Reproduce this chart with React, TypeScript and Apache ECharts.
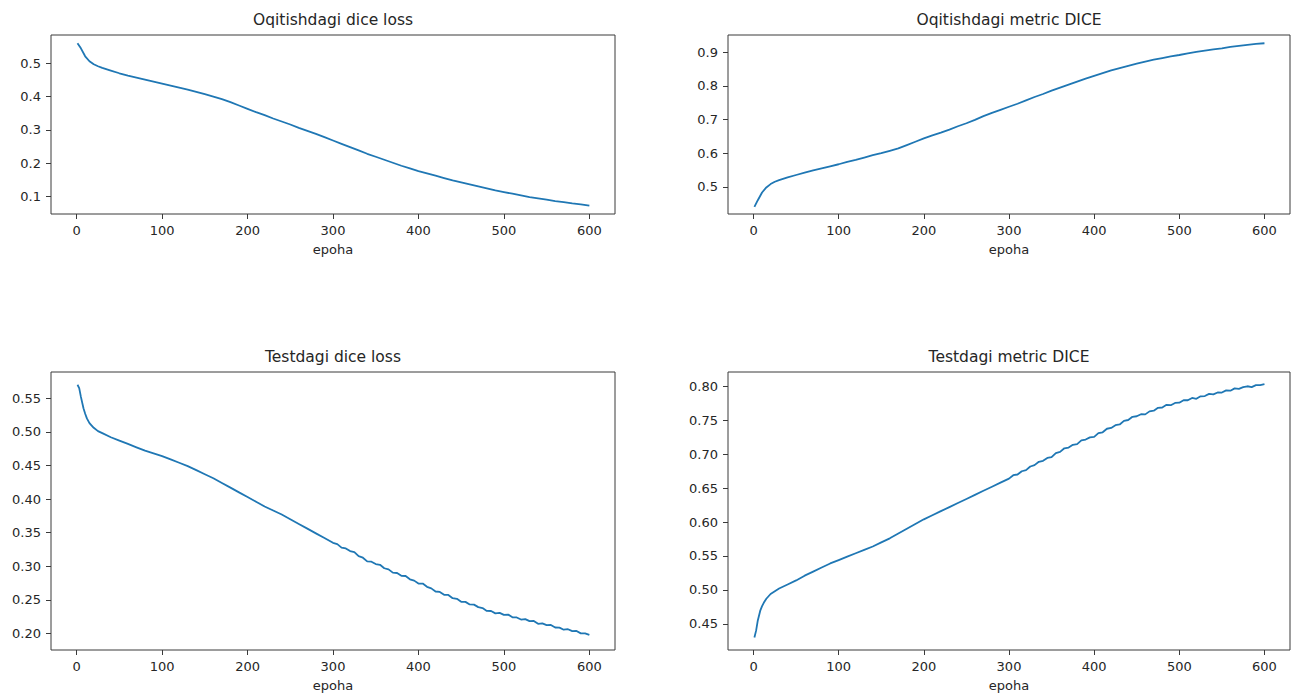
import React, { useEffect, useRef } from "react";
import * as echarts from "echarts";

// ---- data ----
const xTicks = [0, 100, 200, 300, 400, 500, 600];

const trainEpochs = [1, 5, 10, 15, 20, 25, 30, 40, 50, 60, 70, 80, 90, 100, 110, 120, 130, 140, 150, 160, 170, 180, 190, 200, 210, 220, 230, 240, 250, 260, 270, 280, 290, 300, 310, 320, 330, 340, 350, 360, 370, 380, 390, 400, 410, 420, 430, 440, 450, 460, 470, 480, 490, 500, 510, 520, 530, 540, 550, 560, 570, 580, 590, 600];
const trainLoss = [0.560, 0.545, 0.521, 0.506, 0.497, 0.491, 0.486, 0.478, 0.470, 0.463, 0.457, 0.451, 0.445, 0.439, 0.433, 0.427, 0.421, 0.414, 0.407, 0.400, 0.392, 0.383, 0.373, 0.363, 0.353, 0.344, 0.334, 0.325, 0.316, 0.306, 0.297, 0.288, 0.278, 0.268, 0.258, 0.248, 0.238, 0.228, 0.219, 0.210, 0.201, 0.192, 0.184, 0.176, 0.169, 0.162, 0.155, 0.148, 0.142, 0.136, 0.130, 0.124, 0.118, 0.113, 0.108, 0.103, 0.098, 0.094, 0.090, 0.086, 0.083, 0.079, 0.076, 0.072];
const trainDice = [0.440, 0.460, 0.483, 0.498, 0.508, 0.515, 0.520, 0.528, 0.535, 0.542, 0.549, 0.555, 0.561, 0.567, 0.574, 0.580, 0.587, 0.594, 0.600, 0.607, 0.614, 0.624, 0.634, 0.644, 0.653, 0.661, 0.670, 0.680, 0.689, 0.699, 0.710, 0.720, 0.729, 0.738, 0.747, 0.757, 0.767, 0.776, 0.786, 0.795, 0.804, 0.813, 0.822, 0.830, 0.838, 0.846, 0.853, 0.860, 0.866, 0.872, 0.878, 0.883, 0.888, 0.892, 0.897, 0.901, 0.905, 0.909, 0.912, 0.916, 0.919, 0.922, 0.925, 0.927];

const testEpochs = [1, 3, 5, 8, 10, 12, 15, 20, 25, 30, 40, 50, 60, 70, 80, 90, 100, 110, 120, 130, 140, 150, 160, 170, 180, 190, 200, 210, 220, 230, 240, 250, 260, 270, 280, 290, 300, 305, 310, 315, 320, 325, 330, 335, 340, 345, 350, 355, 360, 365, 370, 375, 380, 385, 390, 395, 400, 405, 410, 415, 420, 425, 430, 435, 440, 445, 450, 455, 460, 465, 470, 475, 480, 485, 490, 495, 500, 505, 510, 515, 520, 525, 530, 535, 540, 545, 550, 555, 560, 565, 570, 575, 580, 585, 590, 595, 600];
const testLoss = [0.570, 0.565, 0.552, 0.535, 0.527, 0.520, 0.513, 0.506, 0.501, 0.498, 0.492, 0.487, 0.482, 0.477, 0.472, 0.468, 0.464, 0.459, 0.454, 0.449, 0.443, 0.437, 0.431, 0.424, 0.417, 0.410, 0.403, 0.396, 0.389, 0.383, 0.377, 0.370, 0.363, 0.356, 0.349, 0.342, 0.3350, 0.3330, 0.3278, 0.3266, 0.3226, 0.3210, 0.3150, 0.3128, 0.3074, 0.3068, 0.3033, 0.3022, 0.2971, 0.2954, 0.2906, 0.2900, 0.2859, 0.2856, 0.2807, 0.2787, 0.2743, 0.2743, 0.2695, 0.2672, 0.2625, 0.2619, 0.2577, 0.2574, 0.2526, 0.2516, 0.2472, 0.2471, 0.2433, 0.2430, 0.2393, 0.2378, 0.2336, 0.2335, 0.2300, 0.2307, 0.2277, 0.2281, 0.2241, 0.2239, 0.2208, 0.2215, 0.2184, 0.2188, 0.2145, 0.2152, 0.2126, 0.2127, 0.2090, 0.2088, 0.2057, 0.2064, 0.2035, 0.2039, 0.2002, 0.2001, 0.1980];
const testDice = [0.430, 0.440, 0.455, 0.470, 0.476, 0.481, 0.487, 0.494, 0.498, 0.502, 0.508, 0.514, 0.521, 0.527, 0.533, 0.539, 0.544, 0.549, 0.554, 0.559, 0.564, 0.570, 0.576, 0.583, 0.590, 0.597, 0.604, 0.610, 0.616, 0.622, 0.628, 0.634, 0.640, 0.646, 0.652, 0.658, 0.6640, 0.6690, 0.6700, 0.6748, 0.6764, 0.6818, 0.6838, 0.6887, 0.6901, 0.6944, 0.6956, 0.7015, 0.7034, 0.7086, 0.7097, 0.7137, 0.7148, 0.7203, 0.7215, 0.7247, 0.7255, 0.7309, 0.7322, 0.7374, 0.7386, 0.7426, 0.7437, 0.7491, 0.7503, 0.7550, 0.7558, 0.7588, 0.7586, 0.7630, 0.7640, 0.7682, 0.7687, 0.7726, 0.7721, 0.7754, 0.7758, 0.7795, 0.7794, 0.7828, 0.7815, 0.7852, 0.7856, 0.7887, 0.7880, 0.7908, 0.7907, 0.7939, 0.7935, 0.7969, 0.7962, 0.7986, 0.8000, 0.7988, 0.8016, 0.8016, 0.8030];

const yTicksTrainLoss = [0.1, 0.2, 0.3, 0.4, 0.5];
const yTicksTrainDice = [0.5, 0.6, 0.7, 0.8, 0.9];
const yTicksTestLoss = [0.2, 0.25, 0.3, 0.35, 0.4, 0.45, 0.5, 0.55];
const yTicksTestDice = [0.45, 0.5, 0.55, 0.6, 0.65, 0.7, 0.75, 0.8];

const titles = ["Oqitishdagi dice loss", "Oqitishdagi metric DICE", "Testdagi dice loss", "Testdagi metric DICE"];
const xLabel = "epoha";

// ---- styling / layout ----
const FONT = "DejaVu Sans";
const TEXT = "#262626";
const SPINE = "#3a3a3a";
const LINE = "#1f77b4";

const grids = [
  { left: 51, top: 35, width: 564, height: 179 },
  { left: 728, top: 35, width: 562, height: 179 },
  { left: 51, top: 372, width: 564, height: 279 },
  { left: 728, top: 372, width: 562, height: 279 },
];
const yRanges = [
  [0.047, 0.585],
  [0.419, 0.9515],
  [0.1755, 0.589],
  [0.4115, 0.821],
];
const yTicks = [yTicksTrainLoss, yTicksTrainDice, yTicksTestLoss, yTicksTestDice];
const yDecimals = [1, 1, 2, 2];

const pair = (xs: number[], ys: number[]) => xs.map((x, i) => [x, ys[i]]);
const seriesData = [
  pair(trainEpochs, trainLoss),
  pair(trainEpochs, trainDice),
  pair(testEpochs, testLoss),
  pair(testEpochs, testDice),
];

export default function App() {
  const ref = useRef<HTMLDivElement>(null);
  useEffect(() => {
    if (!ref.current) return;
    const chart = echarts.init(ref.current, undefined, { renderer: "svg" });
    const option: any = {
      animation: false,
      backgroundColor: "#ffffff",
      grid: grids.map((g) => ({
        ...g,
        show: true,
        borderColor: SPINE,
        borderWidth: 1,
        backgroundColor: "transparent",
        containLabel: false,
      })),
      xAxis: grids.map((_, i) => ({
        type: "value",
        gridIndex: i,
        min: -30,
        max: 630,
        position: "bottom",
        name: xLabel,
        nameLocation: "middle",
        nameGap: 29,
        nameTextStyle: { fontFamily: FONT, fontSize: 13, color: TEXT },
        splitLine: { show: false },
        axisLine: { show: false, onZero: false },
        axisTick: { show: true, length: 5, customValues: xTicks, lineStyle: { color: SPINE, width: 1 } },
        axisLabel: {
          customValues: xTicks,
          margin: 10,
          fontFamily: FONT,
          fontSize: 13,
          color: TEXT,
          formatter: (v: number) => String(Math.round(v)),
        },
      })),
      yAxis: grids.map((_, i) => ({
        type: "value",
        gridIndex: i,
        min: yRanges[i][0],
        max: yRanges[i][1],
        position: "left",
        splitLine: { show: false },
        axisLine: { show: false, onZero: false },
        axisTick: { show: true, length: 5, customValues: yTicks[i], lineStyle: { color: SPINE, width: 1 } },
        axisLabel: {
          customValues: yTicks[i],
          margin: 10,
          fontFamily: FONT,
          fontSize: 13,
          color: TEXT,
          formatter: (v: number) => v.toFixed(yDecimals[i]),
        },
      })),
      series: seriesData.map((d, i) => ({
        type: "line",
        xAxisIndex: i,
        yAxisIndex: i,
        data: d,
        showSymbol: false,
        symbol: "none",
        lineStyle: { color: LINE, width: 1.8 },
        z: 3,
      })),
      graphic: grids.map((g, i) => ({
        type: "text",
        x: g.left + g.width / 2,
        y: g.top - 15.5,
        style: {
          text: titles[i],
          align: "center",
          verticalAlign: "middle",
          textAlign: "center",
          textVerticalAlign: "middle",
          fontFamily: FONT,
          fontSize: 15.5,
          fill: TEXT,
        },
      })),
    };
    chart.setOption(option);
    return () => chart.dispose();
  }, []);
  return (
    <div
      ref={ref}
      style={{ position: "fixed", left: 0, top: 0, width: 1291, height: 693, background: "#fff" }}
    />
  );
}
